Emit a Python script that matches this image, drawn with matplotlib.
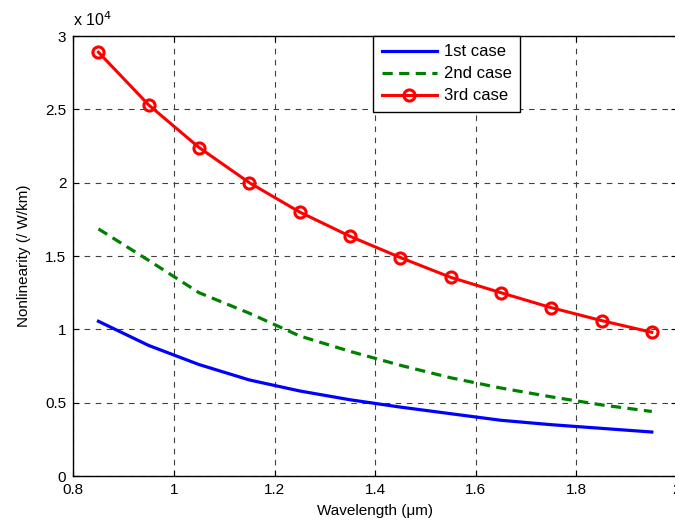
import matplotlib.pyplot as plt
from matplotlib.ticker import FuncFormatter

plt.rcParams['font.family'] = ['Liberation Sans', 'DejaVu Sans']

# comprimento de onda (um)
wavelength = [0.85, 0.95, 1.05, 1.15, 1.25, 1.35, 1.45, 1.55, 1.65, 1.75, 1.85, 1.95]

# não-linearidade (/W/km) para cada caso
case1 = [10550, 8900, 7600, 6550, 5800, 5200, 4700, 4250, 3800, 3500, 3250, 3000]
case2 = [16850, 14700, 12500, 11100, 9550, 8500, 7550, 6700, 6000, 5400, 4850, 4400]
case3 = [28900, 25300, 22400, 20000, 18000, 16350, 14900, 13550, 12500, 11480, 10600, 9800]

labels = ['1st case', '2nd case', '3rd case']

fs = 11

fig = plt.figure(figsize=(6.75, 5.2), dpi=100)
ax = fig.add_axes([0.1086, 0.0846, 0.8943, 0.846])

ax.plot(wavelength, case1, color='#0000ff', lw=2.3, label=labels[0])
ax.plot(wavelength, case2, color='#008000', lw=2.3, ls=(0, (3.2, 2.0)), label=labels[1])
ax.plot(wavelength, case3, color='#ff0000', lw=2.2, marker='o', ms=8,
        mfc='none', mec='#ff0000', mew=2.2, label=labels[2])

ax.set_xlim(0.8, 2.0)
ax.set_ylim(0, 30000)
ax.set_xticks([0.8, 1.0, 1.2, 1.4, 1.6, 1.8, 2.0])
ax.set_yticks([0, 5000, 10000, 15000, 20000, 25000, 30000])
ax.xaxis.set_major_formatter(FuncFormatter(lambda v, p: '%g' % v))
ax.yaxis.set_major_formatter(FuncFormatter(lambda v, p: '%g' % (v / 1e4)))
ax.tick_params(direction='in', top=True, right=True, labelsize=fs, length=4)
ax.tick_params(axis='x', pad=5)
ax.tick_params(axis='y', pad=5)

ax.grid(True, color='#404040', ls=(0, (5, 5)), lw=0.8)
for s in ax.spines.values():
    s.set_linewidth(1.0)

ax.text(0.0, 1.015, r'x 10$^{4}$', transform=ax.transAxes, ha='left', va='bottom', fontsize=fs + 0.5)

ax.set_xlabel('Wavelength (\u03bcm)', fontsize=fs, labelpad=5)
ax.set_ylabel('Nonlinearity (/ W/km)', fontsize=fs, labelpad=10)

leg = ax.legend(loc='upper left', bbox_to_anchor=(0.497, 1.0), fontsize=fs + 1,
                fancybox=False, framealpha=1, edgecolor='black', borderaxespad=0,
                handlelength=3.3, handletextpad=0.45, labelspacing=0.42,
                borderpad=0.5)
leg.get_frame().set_linewidth(1.0)

plt.savefig('out.png', dpi=100)
